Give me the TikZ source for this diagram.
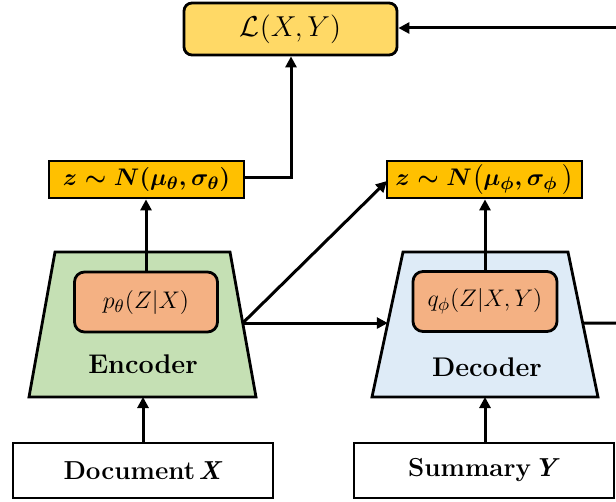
\documentclass[tikz,border=0pt]{standalone}
\usepackage{amsmath,amssymb}
\usetikzlibrary{arrows.meta,calc}
\definecolor{lossfill}{HTML}{FFD966}
\definecolor{zfill}{HTML}{FFC000}
\definecolor{encfill}{HTML}{C5E0B4}
\definecolor{decfill}{HTML}{DEEBF7}
\definecolor{qfill}{HTML}{F4B183}
\begin{document}
\begin{tikzpicture}[x=0.5pt,y=-0.5pt,
  every node/.style={font=\fontsize{13}{15}\selectfont},
  lossbox/.style={draw,line width=1.4pt,fill=lossfill,rounded corners=4pt,inner sep=0pt,
    minimum width=106.5pt,minimum height=26pt,font=\fontsize{13.3}{16}\selectfont},
  zbox/.style={draw,line width=1.4pt,fill=zfill,inner sep=0pt,
    minimum width=97.5pt,minimum height=18.5pt,font=\fontsize{12.5}{15}\selectfont\boldmath},
  distbox/.style={draw,line width=1.4pt,fill=qfill,rounded corners=5pt,inner sep=0pt,
    minimum width=71.5pt,minimum height=30pt,font=\fontsize{12.6}{15}\selectfont},
  inbox/.style={draw,line width=1.4pt,fill=white,inner sep=0pt,
    minimum width=130pt,minimum height=27.5pt,font=\fontsize{13}{15}\selectfont\bfseries},
  lbl/.style={font=\fontsize{13.5}{15}\selectfont\bfseries},
  trap/.style={draw,line width=1.4pt,line join=miter},
  conn/.style={line width=1.5pt,-{Triangle[length=5.5pt,width=5.5pt]}},
  plain/.style={line width=1.5pt}]
\useasboundingbox (0,0) rectangle (616,502);

% top loss box
\node[lossbox] (loss) at (290.5,29) {$\mathcal{L}(X,Y)$};

% latent boxes
\node[zbox] (zt) at (146.5,179.5) {$z\sim N(\mu_\theta,\sigma_\theta)$};
\node[zbox] (zp) at (484.5,179.5) {$z\sim N\big(\mu_\phi,\sigma_\phi\,\big)$};

% encoder trapezoid
\coordinate (etl) at (55,252);
\coordinate (etr) at (230,252);
\coordinate (ebr) at (256,397);
\coordinate (ebl) at (29,397);
\draw[trap,fill=encfill] (etl) -- (etr) -- (ebr) -- (ebl) -- cycle;
\coordinate (eout) at ($(etr)!0.49!(ebr)$);
\node[distbox] (pbox) at (146,302) {$p_\theta(Z|X)$};
\node[lbl] (enc) at (143,364) {Encoder};

% decoder trapezoid
\coordinate (dtl) at (403,252);
\coordinate (dtr) at (568,252);
\coordinate (dbr) at (598,397);
\coordinate (dbl) at (372,397);
\draw[trap,fill=decfill] (dtl) -- (dtr) -- (dbr) -- (dbl) -- cycle;
\coordinate (din) at ($(dtl)!0.49!(dbl)$);
\coordinate (dout) at ($(dtr)!0.49!(dbr)$);
\node[distbox,minimum width=72pt] (qbox) at (485,301.5) {$q_\phi(Z|X,Y)$};
\node[lbl] (dec) at (487,367) {Decoder};

% inputs
\node[inbox] (doc) at (143,470.5) {Document\hspace{0.12em}\textit{X}};
\node[inbox] (sum) at (484,470.5) {Summary\hspace{0.12em}\textit{Y}};

% connectors
\coordinate (encbot) at (143,397);
\coordinate (decbot) at (485,397);
\draw[conn] (doc.north -| encbot) -- (encbot);
\draw[conn] (sum.north -| decbot) -- (decbot);
\draw[conn] (pbox.north) -- (pbox.north |- zt.south);
\draw[conn] (qbox.north) -- (qbox.north |- zp.south);
\coordinate (bend) at (291,178);
\draw[conn] (zt.east |- bend) -- (bend) -- (bend |- loss.south);
\coordinate (rin) at (617,28);
\draw[conn] (rin) -- (rin -| loss.east);
\coordinate (zpin) at (387,181);
\draw[conn] (eout) -- (zpin);
\draw[conn] (eout) -- (din);
\coordinate (rout) at (617,323);
\draw[plain] (dout) -- (rout);
\end{tikzpicture}
\end{document}
